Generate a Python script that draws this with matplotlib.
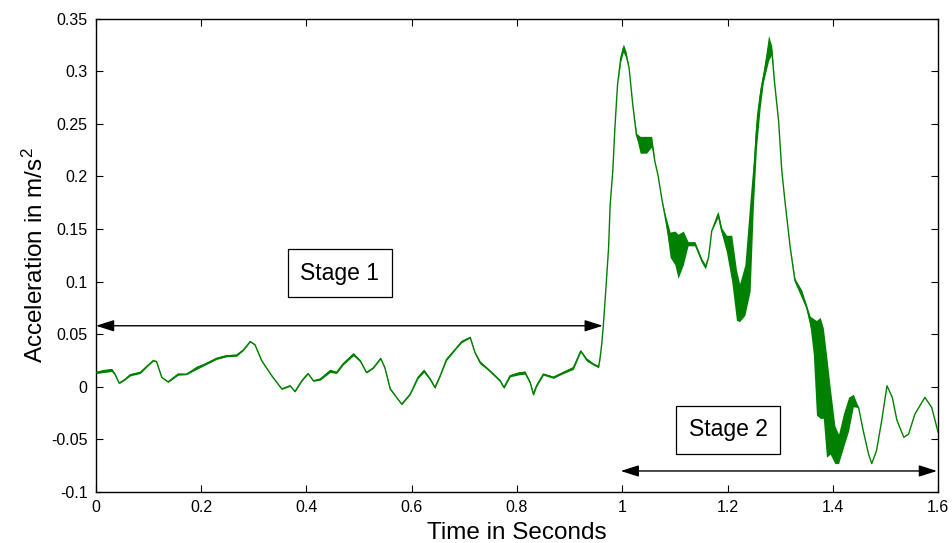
import numpy as np
import matplotlib
matplotlib.use("Agg")
import matplotlib.pyplot as plt
from matplotlib.ticker import FuncFormatter, MultipleLocator

plt.rcParams['font.family'] = ['Liberation Sans', 'DejaVu Sans']
plt.rcParams['mathtext.default'] = 'regular'

# time (s), mean acceleration (m/s^2) and half-width of the vibration band
t = [0.000, 0.014, 0.030, 0.036, 0.044, 0.055, 0.065, 0.084, 0.100, 0.109,
     0.115, 0.125, 0.137, 0.156, 0.172, 0.191, 0.207, 0.229, 0.248, 0.267,
     0.280, 0.293, 0.302, 0.315, 0.334, 0.353, 0.369, 0.378, 0.391, 0.403,
     0.413, 0.426, 0.445, 0.457, 0.470, 0.489, 0.502, 0.514, 0.527, 0.541,
     0.549, 0.559, 0.571, 0.581, 0.597, 0.612, 0.623, 0.635, 0.644, 0.654,
     0.666, 0.685, 0.695, 0.711, 0.720, 0.730, 0.742, 0.755, 0.768, 0.775,
     0.787, 0.802, 0.815, 0.825, 0.831, 0.837, 0.850, 0.869, 0.888, 0.907,
     0.921, 0.932, 0.945, 0.955, 0.958, 0.961, 0.964, 0.969, 0.974, 0.977,
     0.982, 0.986, 0.991, 0.997, 1.002, 1.007, 1.013, 1.020, 1.027, 1.034,
     1.046, 1.056, 1.062, 1.068, 1.075, 1.081, 1.091, 1.100, 1.106, 1.116,
     1.125, 1.138, 1.151, 1.158, 1.164, 1.170, 1.182, 1.189, 1.198, 1.208,
     1.217, 1.223, 1.233, 1.243, 1.249, 1.255, 1.262, 1.268, 1.278, 1.284,
     1.289, 1.297, 1.303, 1.309, 1.319, 1.328, 1.341, 1.350, 1.357, 1.363,
     1.369, 1.376, 1.382, 1.388, 1.395, 1.404, 1.411, 1.420, 1.430, 1.439,
     1.449, 1.458, 1.468, 1.474, 1.483, 1.493, 1.503, 1.513, 1.522, 1.535,
     1.544, 1.556, 1.575, 1.588, 1.600]
acc = [0.0136, 0.015, 0.016, 0.012, 0.0035, 0.007, 0.0114, 0.0136, 0.021, 0.025,
       0.024, 0.009, 0.0047, 0.012, 0.012, 0.018, 0.0215, 0.027, 0.0295, 0.030,
       0.035, 0.043, 0.040, 0.0247, 0.0105, -0.002, 0.001, -0.0045, 0.0057, 0.0127,
       0.0057, 0.0073, 0.0152, 0.0136, 0.022, 0.031, 0.0247, 0.0136, 0.018, 0.027,
       0.018, -0.002, -0.010, -0.0165, -0.007, 0.009, 0.0152, 0.0073, -0.0006, 0.0105,
       0.026, 0.037, 0.043, 0.047, 0.0326, 0.023, 0.018, 0.012, 0.0057, -0.0006,
       0.0105, 0.0127, 0.0136, 0.004, -0.007, 0.001, 0.012, 0.009, 0.0136, 0.018,
       0.034, 0.026, 0.0216, 0.019, 0.028, 0.0405, 0.058, 0.094, 0.132, 0.173,
       0.205, 0.246, 0.287, 0.312, 0.322, 0.316, 0.303, 0.268, 0.239, 0.230,
       0.230, 0.233, 0.214, 0.201, 0.179, 0.163, 0.135, 0.132, 0.124, 0.132,
       0.136, 0.136, 0.120, 0.114, 0.123, 0.148, 0.164, 0.148, 0.136, 0.122,
       0.087, 0.080, 0.092, 0.135, 0.192, 0.243, 0.275, 0.294, 0.322, 0.320,
       0.291, 0.253, 0.206, 0.177, 0.133, 0.101, 0.088, 0.076, 0.062, 0.048,
       0.018, 0.018, 0.013, -0.018, -0.032, -0.055, -0.059, -0.042, -0.026, -0.013,
       -0.0197, -0.042, -0.064, -0.073, -0.061, -0.032, 0.001, -0.010, -0.032, -0.048,
       -0.045, -0.026, -0.010, -0.0197, -0.043]
band = [0.001, 0.0015, 0.0015, 0.001, 0.0005, 0.0005, 0.001, 0.001, 0.0005, 0.0005,
        0.0005, 0.0005, 0.0005, 0.001, 0.0005, 0.0015, 0.001, 0.001, 0.001, 0.001,
        0.0005, 0.0005, 0.0005, 0.0005, 0.0005, 0.0005, 0.0005, 0.0005, 0.0005, 0.0005,
        0.0005, 0.001, 0.0015, 0.001, 0.001, 0.0015, 0.001, 0.0005, 0.0005, 0.0005,
        0.0005, 0.001, 0.0005, 0.0005, 0.0005, 0.001, 0.0015, 0.001, 0.001, 0.0005,
        0.001, 0.0005, 0.001, 0.0005, 0.001, 0.0015, 0.001, 0.001, 0.001, 0.001,
        0.001, 0.0015, 0.0015, 0.001, 0.0015, 0.001, 0.001, 0.001, 0.001, 0.0015,
        0.001, 0.0015, 0.001, 0.001, 0.0005, 0.0, 0.0, 0.0, 0.0, 0.0,
        0.0, 0.0, 0.0, 0.003, 0.004, 0.003, 0.0, 0.0, 0.002, 0.008,
        0.008, 0.005, 0.0, 0.0, 0.0, 0.002, 0.012, 0.016, 0.021, 0.016,
        0.002, 0.002, 0.002, 0.002, 0.0, 0.0, 0.003, 0.003, 0.008, 0.022,
        0.024, 0.018, 0.024, 0.044, 0.022, 0.016, 0.010, 0.005, 0.012, 0.004,
        0.0, 0.0, 0.0, 0.0, 0.0, 0.002, 0.004, 0.002, 0.005, 0.017,
        0.045, 0.048, 0.043, 0.049, 0.032, 0.018, 0.014, 0.016, 0.016, 0.006,
        0.0, 0.0, 0.0, 0.0, 0.0, 0.0, 0.0, 0.0, 0.0, 0.0,
        0.0, 0.0, 0.0, 0.0, 0.0]

t = np.array(t)
acc = np.array(acc)
band = np.array(band)

green = '#008000'

fig = plt.figure(figsize=(9.53, 5.43), dpi=100)
ax = fig.add_axes([0.1007, 0.0939, 0.8836, 0.872])

ax.fill_between(t, acc - band, acc + band, color=green, lw=0, zorder=2)
ax.plot(t, acc, color=green, lw=1.0, zorder=3)

ax.set_xlim(0, 1.6)
ax.set_ylim(-0.1, 0.35)
ax.xaxis.set_major_locator(MultipleLocator(0.2))
ax.yaxis.set_major_locator(MultipleLocator(0.05))
fmt = FuncFormatter(lambda v, pos: '%g' % round(v, 4))
ax.xaxis.set_major_formatter(fmt)
ax.yaxis.set_major_formatter(fmt)
ax.tick_params(direction='in', top=True, right=True, length=5, width=0.8,
               labelsize=11.5, pad=6)
for s in ax.spines.values():
    s.set_linewidth(1.0)

ax.set_xlabel('Time in Seconds', fontsize=17.5, labelpad=5)
ax.set_ylabel('Acceleration in m/s$^{2}$', fontsize=17.5, labelpad=2)

# stage arrows
arrow = dict(arrowstyle='<|-|>,head_length=1.1,head_width=0.35',
             color='black', lw=1.0, shrinkA=0, shrinkB=0)
ax.annotate('', xy=(0.0, 0.058), xytext=(0.963, 0.058),
            arrowprops=arrow, annotation_clip=False)
ax.annotate('', xy=(0.997, -0.080), xytext=(1.598, -0.080),
            arrowprops=arrow, annotation_clip=False)

box = dict(boxstyle='square,pad=0.55', fc='white', ec='black', lw=0.9)
ax.text(0.463, 0.108, 'Stage 1', fontsize=16.5, ha='center', va='center',
        bbox=box, zorder=5)
ax.text(1.201, -0.041, 'Stage 2', fontsize=16.5, ha='center', va='center',
        bbox=box, zorder=5)

fig.savefig('out.png', dpi=100)
